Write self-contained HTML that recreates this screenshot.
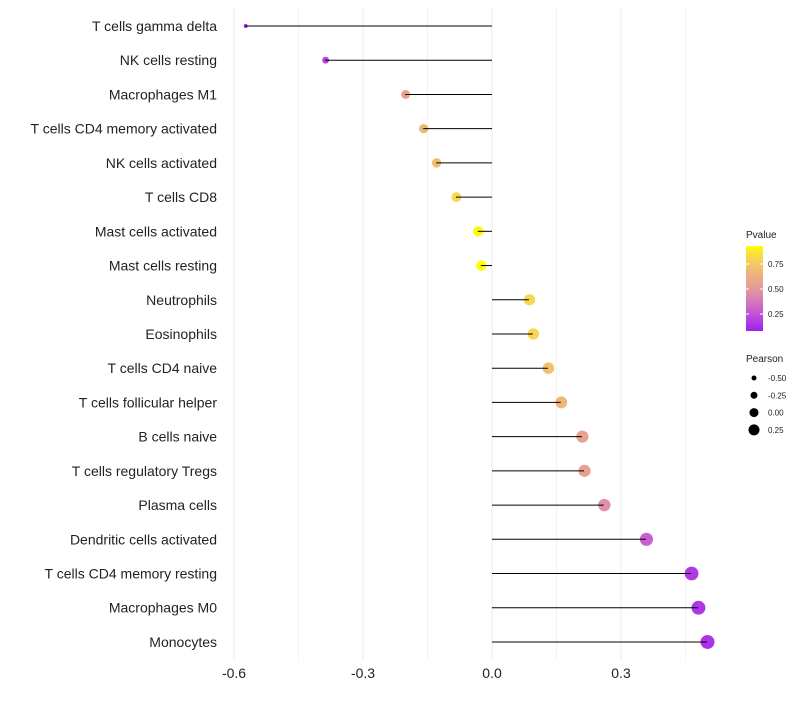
<!DOCTYPE html>
<html><head><meta charset="utf-8"><style>
body{margin:0;background:#fff;font-family:"Liberation Sans",sans-serif}
</style></head><body>
<svg id="chart" width="800" height="700" xmlns="http://www.w3.org/2000/svg"></svg>
<script>
const categories=["T cells gamma delta","NK cells resting","Macrophages M1","T cells CD4 memory activated","NK cells activated","T cells CD8","Mast cells activated","Mast cells resting","Neutrophils","Eosinophils","T cells CD4 naive","T cells follicular helper","B cells naive","T cells regulatory  Tregs ","Plasma cells","Dendritic cells activated","T cells CD4 memory resting","Macrophages M0","Monocytes"];
const pearson=[-0.574,-0.388,-0.202,-0.160,-0.130,-0.084,-0.033,-0.026,0.086,0.095,0.130,0.160,0.209,0.214,0.260,0.358,0.463,0.479,0.500];
const pvalue=[0.02,0.15,0.55,0.68,0.72,0.88,0.98,0.99,0.88,0.87,0.75,0.7,0.55,0.55,0.45,0.25,0.1,0.09,0.08];
const xTicks=[-0.6,-0.3,0.0,0.3];
const xTickLabels=["-0.6","-0.3","0.0","0.3"];
const legendP=[0.75,0.50,0.25];
const legendS=[-0.50,-0.25,0.00,0.25];

const svg=document.getElementById('chart');
const NS="http://www.w3.org/2000/svg";
const x=v=>492+v*430;
const y=i=>26+i*34.22;
const r=v=>Math.sqrt(Math.max(2,28+42*v));
const rl=v=>2.5+(v+0.5)*4;
const stops=[[0,[160,32,240]],[0.25,[200,96,208]],[0.45,[224,144,168]],[0.55,[232,160,144]],[0.7,[240,184,120]],[0.88,[248,216,80]],[1,[255,255,0]]];
function col(p){
  let i=0;while(i<stops.length-2&&p>stops[i+1][0])i++;
  const a=stops[i],b=stops[i+1];
  const t=Math.min(1,Math.max(0,(p-a[0])/(b[0]-a[0])));
  const c=a[1].map((v,k)=>Math.round(v+(b[1][k]-v)*t));
  return `rgb(${c[0]},${c[1]},${c[2]})`;
}
function el(tag,attrs,txt){const e=document.createElementNS(NS,tag);for(const k in attrs)e.setAttribute(k,attrs[k]);if(txt!==undefined)e.textContent=txt;svg.appendChild(e);return e;}

for(let k=-4;k<=3;k++){
  const g=k*0.15;
  const l=el('line',{x1:x(g),x2:x(g),y1:8,y2:660,stroke:'#ebebeb','stroke-width':k%2===0?1:0.6});
  
  
}
xTicks.forEach((t,i)=>{
  const e=el('text',{x:x(t),y:678,'text-anchor':'middle','font-size':14,fill:'#222'},xTickLabels[i]);
  
  
});
categories.forEach((c,i)=>{
  const t=el('text',{x:217,y:y(i)+5,'text-anchor':'end','font-size':14,fill:'#222'},c);
  
  
  const d=el('circle',{cx:x(pearson[i])+0.5,cy:y(i),r:r(pearson[i]),fill:col(pvalue[i])});
  
  
  const l=el('line',{x1:x(0),x2:x(pearson[i]),y1:y(i),y2:y(i),stroke:'#000','stroke-width':1});
  
  
});
let e=el('text',{x:746,y:238,'font-size':10,fill:'#222'},'Pvalue');


const defs=el('defs',{});
const lg=document.createElementNS(NS,'linearGradient');
lg.setAttribute('id','pg');lg.setAttribute('x1',0);lg.setAttribute('x2',0);lg.setAttribute('y1',1);lg.setAttribute('y2',0);
for(let k=0;k<=10;k++){const p=k/10;const s=document.createElementNS(NS,'stop');s.setAttribute('offset',k/10);s.setAttribute('stop-color',col(p));lg.appendChild(s);}
defs.appendChild(lg);
const pv=v=>331-(v-0.08)/0.85*85;
e=el('rect',{x:746,y:246,width:17,height:85,fill:'url(#pg)'});


legendP.forEach(p=>{
  el('line',{x1:746,x2:749,y1:pv(p),y2:pv(p),stroke:'#fff'});
  el('line',{x1:760,x2:763,y1:pv(p),y2:pv(p),stroke:'#fff'});
  const t=el('text',{x:768,y:pv(p)+3,'font-size':8,fill:'#222'},p.toFixed(2));
  
  
});
e=el('text',{x:746,y:362,'font-size':10,fill:'#222'},'Pearson');


legendS.forEach((s,i)=>{
  const cy=378+i*17.3;
  const c=el('circle',{cx:754,cy:cy,r:rl(s),fill:'#000'});
  
  
  const t=el('text',{x:768,y:cy+3,'font-size':8,fill:'#222'},s.toFixed(2));
  
  
});
</script>
</body></html>
